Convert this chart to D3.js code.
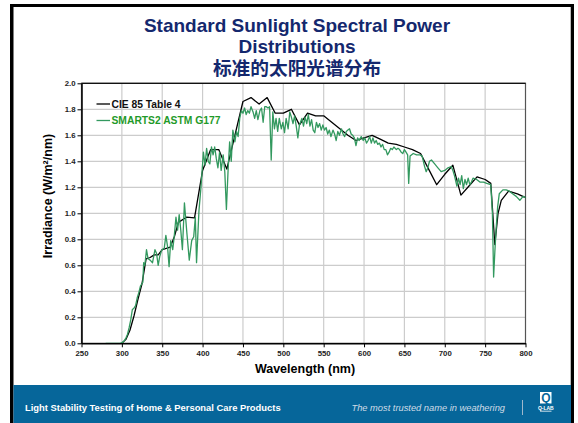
<!DOCTYPE html>
<html><head><meta charset="utf-8">
<script src="https://cdn.jsdelivr.net/npm/d3@7"></script>
<style>
html,body{margin:0;padding:0;background:#fff;}
svg{display:block;font-family:"Liberation Sans",Arial,sans-serif;}
</style></head>
<body>
<svg id="c" width="578" height="423"></svg>
<script>
// ---------- data ----------
const titleLines = ["Standard Sunlight Spectral Power", "Distributions", "标准的太阳光谱分布"];
const seriesNames = ["CIE 85 Table 4", "SMARTS2 ASTM G177"];
const xTicks = [250,300,350,400,450,500,550,600,650,700,750,800];
const yTicks = [0.0,0.2,0.4,0.6,0.8,1.0,1.2,1.4,1.6,1.8,2.0];

const cieWavelength = [300,305,310,315,320,325,330,335,340,345,350,355,360,365,370,380,390,400,410,420,430,440,450,460,470,480,490,500,510,520,530,540,550,560,570,580,590,600,610,620,630,640,650,660,670,680,690,700,710,720,730,740,750,757,762,766,770,779,790,800];
const cieIrradiance = [0.00,0.03,0.10,0.21,0.34,0.46,0.65,0.66,0.68,0.68,0.72,0.73,0.74,0.82,0.93,0.97,0.965,1.33,1.49,1.49,1.34,1.60,1.86,1.89,1.84,1.89,1.77,1.77,1.80,1.68,1.77,1.75,1.75,1.70,1.65,1.60,1.56,1.58,1.60,1.57,1.54,1.53,1.51,1.49,1.46,1.34,1.22,1.30,1.37,1.14,1.21,1.28,1.26,1.23,0.76,1.00,1.10,1.17,1.15,1.12];

const smartsWavelength = [280,285,290,295,298,300,303,305,307,309,311,313,315,317,319,321,323,325,326,327,328.5,330.5,332.5,335,338,341,343,345,347,349.5,352.5,354.5,356.5,358.5,360.5,363,365,367,369,371,373,375,377.5,380.5,383.5,386.5,389,391,392.5,395.5,398,401,403,405,407,409,411,413,415,417,419,421,423,425.5,427.5,429.5,431.5,433.5,435.5,437.5,440,442,444,446,448,450,452,454,456,458,460,462.5,464.5,466.5,468.5,471,473,475,477,479,481,483,485,487,489,491,493,495,497.5,499.5,501.5,503.5,506,508,510,512,514,516,518,520,523,525,527,529,531,533,535,537,539,541,543,545,547,549,551,553,555,557,559,561.5,563.5,565.5,567.5,569.5,572,574,576,578,580,582,584,586,588,590,592,594,596.5,599,601,603,605,607,609,611,613,615,617,619,621,623,625,627,629,631,633,635,637,640,642,644,646,648,650,652,654,655.3,657,659,661,665,669,672,675,677,679,681,683.5,687.5,691.5,695.5,700,704,708,710,712,715,717,719,721,723,725,727,729,731,733,735,739.5,743.5,748,752,757,759,760.5,762,763.5,765.5,767.5,772,776,780,784,788.5,793,797,800];
const smartsIrradiance = [0,0,0,0,0,0.005,0.02,0.04,0.07,0.12,0.18,0.26,0.27,0.29,0.35,0.39,0.44,0.46,0.47,0.62,0.60,0.72,0.65,0.64,0.62,0.72,0.69,0.60,0.67,0.72,0.73,0.83,0.75,0.59,0.79,0.72,0.83,0.97,0.87,0.99,0.87,0.72,1.08,0.85,0.64,0.79,0.82,0.97,0.62,1.02,1.20,1.47,1.37,1.50,1.40,1.38,1.51,1.45,1.51,1.42,1.35,1.47,1.33,1.45,1.32,1.03,1.32,1.55,1.40,1.64,1.55,1.63,1.59,1.73,1.79,1.77,1.81,1.76,1.79,1.77,1.82,1.78,1.73,1.79,1.72,1.79,1.81,1.70,1.82,1.82,1.81,1.82,1.41,1.78,1.65,1.73,1.63,1.73,1.65,1.70,1.62,1.73,1.65,1.78,1.74,1.69,1.75,1.67,1.58,1.68,1.73,1.67,1.74,1.69,1.76,1.67,1.72,1.64,1.62,1.70,1.66,1.69,1.64,1.68,1.64,1.66,1.61,1.64,1.59,1.64,1.61,1.56,1.63,1.60,1.65,1.61,1.59,1.63,1.64,1.65,1.61,1.60,1.58,1.52,1.58,1.56,1.59,1.56,1.58,1.54,1.56,1.59,1.54,1.58,1.54,1.56,1.53,1.54,1.51,1.53,1.49,1.49,1.45,1.47,1.50,1.49,1.51,1.49,1.50,1.49,1.47,1.46,1.49,1.47,1.45,1.23,1.44,1.45,1.46,1.45,1.45,1.44,1.36,1.32,1.35,1.40,1.41,1.38,1.35,1.32,1.33,1.35,1.36,1.33,1.29,1.21,1.27,1.22,1.29,1.19,1.26,1.22,1.27,1.22,1.24,1.27,1.26,1.24,1.24,1.23,1.22,1.00,0.51,0.70,0.87,1.05,1.15,1.18,1.18,1.17,1.15,1.13,1.10,1.13,1.12];

const footerLeft = "Light Stability Testing of Home & Personal Care Products";
const footerRight = "The most trusted name in weathering";

// ---------- drawing ----------
const svg = d3.select("#c");
const W = 578, H = 423;

// slide frame
svg.append("rect").attr("x",0).attr("y",0).attr("width",W).attr("height",H).attr("fill","#fff");
svg.append("rect").attr("x",10).attr("y",4).attr("width",564).attr("height",H).attr("fill","#000");
svg.append("rect").attr("x",13.5).attr("y",7).attr("width",557.5).attr("height",H).attr("fill","#fff");
svg.append("line").attr("x1",570.5).attr("x2",570.5).attr("y1",7).attr("y2",385).attr("stroke","#bbb").attr("stroke-width",1);

// footer
svg.append("rect").attr("x",13.5).attr("y",385).attr("width",557.5).attr("height",H-385).attr("fill","#06669a");
svg.append("text").attr("x",25).attr("y",410.5).attr("fill","#fff").attr("font-size",9.4).attr("font-weight","bold").text(footerLeft);
svg.append("text").attr("x",505).attr("y",410.5).attr("text-anchor","end").attr("fill","#cfdbe6").attr("font-size",9.3).attr("font-style","italic").text(footerRight);
svg.append("line").attr("x1",522.5).attr("x2",522.5).attr("y1",400).attr("y2",415).attr("stroke","#9fb8cc").attr("stroke-width",1);
// logo
const lg = svg.append("g");
lg.append("rect").attr("x",540).attr("y",392).attr("width",11.5).attr("height",11.5).attr("fill","#fff");
lg.append("text").attr("x",545.8).attr("y",402.3).attr("text-anchor","middle").attr("fill","#06669a").attr("font-size",12).attr("font-weight","bold").text("Q");
lg.append("text").attr("x",545.8).attr("y",409.5).attr("text-anchor","middle").attr("fill","#fff").attr("font-size",5).attr("font-weight","bold").text("Q-LAB");
lg.append("line").attr("x1",540).attr("x2",551.5).attr("y1",411.2).attr("y2",411.2).attr("stroke","#fff").attr("stroke-width",0.8);

// title
const titleG = svg.append("g").attr("fill","#14286e").attr("font-weight","bold").attr("text-anchor","middle");
titleG.append("text").attr("x",297).attr("y",31.5).attr("font-size",19).text(titleLines[0]);
titleG.append("text").attr("x",297).attr("y",52.5).attr("font-size",19).text(titleLines[1]);
titleG.append("text").attr("x",297).attr("y",75).attr("font-size",18.7)
  .attr("font-family","'Noto Sans CJK SC','Noto Sans CJK TC',sans-serif").text(titleLines[2]);

// scales
const x = d3.scaleLinear().domain([250,800]).range([81.5,525.5]);
const y = d3.scaleLinear().domain([0,2]).range([343.3,83.3]);

// grid
const grid = svg.append("g").attr("stroke","#cccccc").attr("stroke-width",1.2);
grid.selectAll("line.v").data(xTicks.slice(1,-1)).join("line")
  .attr("x1",d=>x(d)).attr("x2",d=>x(d)).attr("y1",y(0)).attr("y2",y(2));
grid.selectAll("line.h").data(yTicks.slice(1,-1)).join("line")
  .attr("x1",x(250)).attr("x2",x(800)).attr("y1",d=>y(d)).attr("y2",d=>y(d));

// plot border
svg.append("rect").attr("x",x(250)).attr("y",y(2)).attr("width",x(800)-x(250)).attr("height",y(0)-y(2))
  .attr("fill","none").attr("stroke","#555").attr("stroke-width",1.2);
svg.append("line").attr("x1",x(250)).attr("x2",x(800)).attr("y1",y(2)).attr("y2",y(2)).attr("stroke","#111").attr("stroke-width",1.2);

// lines
const line = d3.line().x(d=>x(d[0])).y(d=>y(d[1]));
const smarts = smartsWavelength.map((w,i)=>[w,smartsIrradiance[i]]);
const cie = cieWavelength.map((w,i)=>[w,cieIrradiance[i]]);
svg.append("path").datum(cie).attr("d",line).attr("fill","none").attr("stroke","#000").attr("stroke-width",1.3).attr("stroke-linejoin","round");
svg.append("path").datum(smarts).attr("d",line).attr("fill","none").attr("stroke","#33995f").attr("stroke-width",1.3).attr("stroke-linejoin","round");

// axes
const yAxis = svg.append("g").attr("transform",`translate(${x(250)},0)`)
  .call(d3.axisLeft(y).tickValues(yTicks).tickFormat(d3.format(".1f")).tickSize(4).tickSizeOuter(0).tickPadding(2));
const xAxis = svg.append("g").attr("transform",`translate(0,${y(0)})`)
  .call(d3.axisBottom(x).tickValues(xTicks).tickFormat(d3.format("d")).tickSize(4).tickSizeOuter(0).tickPadding(3));
[yAxis,xAxis].forEach(a=>{
  a.select(".domain").attr("stroke","#000").attr("stroke-width",1.5);
  a.selectAll(".tick line").attr("stroke","#000").attr("stroke-width",1);
  a.selectAll(".tick text").attr("fill","#222").attr("font-size",7.8).attr("font-weight","bold")
    .attr("font-family","'Liberation Sans',Arial,sans-serif");
});

// axis titles
svg.append("text").attr("x",305).attr("y",373).attr("text-anchor","middle").attr("font-size",12.5)
  .attr("font-weight","bold").attr("fill","#000").text("Wavelength (nm)");
svg.append("text").attr("transform","translate(52,196) rotate(-90)").attr("text-anchor","middle")
  .attr("font-size",12.5).attr("font-weight","bold").attr("fill","#000").text("Irradiance (W/m²/nm)");

// legend
const leg = svg.append("g");
leg.append("line").attr("x1",96.5).attr("x2",110).attr("y1",104).attr("y2",104).attr("stroke","#000").attr("stroke-width",1.3);
leg.append("text").attr("x",111.5).attr("y",107.8).attr("font-size",10.3).attr("font-weight","bold").attr("fill","#111").text(seriesNames[0]);
leg.append("line").attr("x1",96.5).attr("x2",110).attr("y1",120.5).attr("y2",120.5).attr("stroke","#33995f").attr("stroke-width",1.3);
leg.append("text").attr("x",111.5).attr("y",124.3).attr("font-size",10.3).attr("font-weight","bold").attr("fill","#1f9a2a").text(seriesNames[1]);
</script>
</body></html>
